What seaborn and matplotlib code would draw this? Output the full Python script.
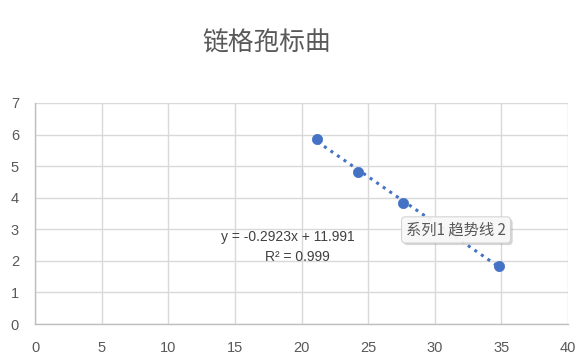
import numpy as np
import pandas as pd
import matplotlib
matplotlib.use("Agg")
import matplotlib.pyplot as plt
import matplotlib.patheffects as pe
import seaborn as sns

# --- DATA ---
x_vals = [21.2, 24.25, 27.65, 34.85]
y_vals = [5.85, 4.82, 3.84, 1.84]
title = "链格孢标曲"
eq_text = "y = -0.2923x + 11.991"
r2_text = "R² = 0.999"
tip_text = "系列1 趋势线 2"
x_ticks = [0, 5, 10, 15, 20, 25, 30, 35, 40]
y_ticks = [0, 1, 2, 3, 4, 5, 6, 7]

df = pd.DataFrame({"x": x_vals, "y": y_vals})

sns.set_theme(style="white")
plt.rcParams['font.family'] = ['Liberation Sans', 'Noto Sans CJK SC', 'DejaVu Sans']

blue = "#4472C4"
grey_txt = "#595959"
grid_c = "#d9d9d9"

fig = plt.figure(figsize=(5.84, 3.62), dpi=100)
ax = fig.add_axes([35 / 584, 1 - 324 / 362, (568 - 35) / 584, (324 - 103) / 362])

# trend line (linear fit over the data range)
slope, intercept = np.polyfit(df["x"], df["y"], 1)
xs = np.array([df["x"].min(), df["x"].max()])
ax.plot(xs, slope * xs + intercept, color=blue, lw=2.2, ls=(0, (1, 1.6)), zorder=2)

sns.scatterplot(data=df, x="x", y="y", ax=ax, color=blue, s=55, edgecolor=blue,
                linewidth=0.5, zorder=3, legend=False)

ax.set_xlim(0, 40)
ax.set_ylim(0, 7)
ax.set_xticks(x_ticks)
ax.set_yticks(y_ticks)
ax.grid(True, color=grid_c, lw=1)
ax.set_axisbelow(True)
for s in ["top", "right"]:
    ax.spines[s].set_visible(False)
for s in ["left", "bottom"]:
    ax.spines[s].set_color("#bfbfbf")
    ax.spines[s].set_linewidth(1)
ax.tick_params(axis="both", length=0, labelsize=10.5, colors=grey_txt)
ax.tick_params(axis="x", pad=12)
ax.tick_params(axis="y", pad=11.5)
ax.set_xlabel("")
ax.set_ylabel("")

fig.text(267 / 584, 1 - 44 / 362, title, ha="center", va="center", fontsize=18.5,
         color=grey_txt, family=["Noto Sans CJK SC", "DejaVu Sans"])

ax.text(19.0, 2.76, eq_text, ha="center", va="center", fontsize=10, color="#404040")
ax.text(19.7, 2.12, r2_text, ha="center", va="center", fontsize=10, color="#404040")

tip = ax.text(31.6, 2.98, tip_text, ha="center", va="center", fontsize=11, color=grey_txt,
              family=["Noto Sans CJK SC", "DejaVu Sans"], zorder=5,
              bbox=dict(boxstyle="round,pad=0.3,rounding_size=0.25", fc="#fafafa",
                        ec="#d0d0d0", lw=0.8, alpha=0.92))
tip.get_bbox_patch().set_path_effects(
    [pe.withSimplePatchShadow(offset=(1.5, -1.5), shadow_rgbFace="#999999", alpha=0.4)])

fig.savefig("out.png", dpi=100)
